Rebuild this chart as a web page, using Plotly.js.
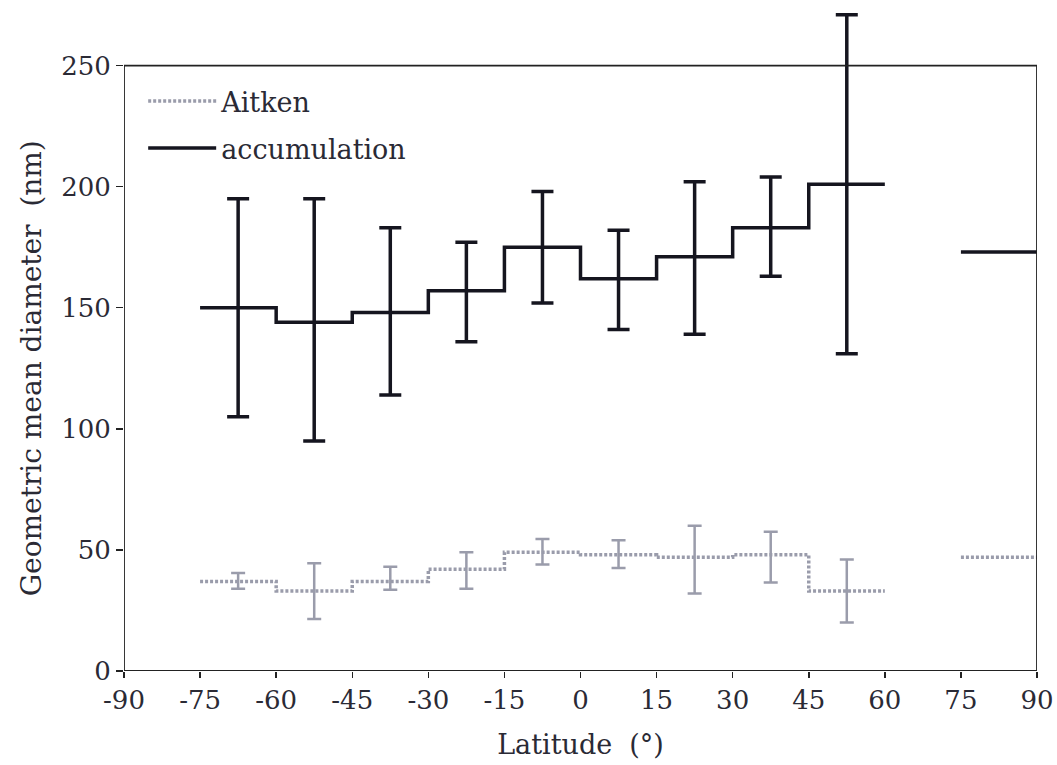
<!DOCTYPE html>
<html>
<head>
<meta charset="utf-8">
<script src="https://cdn.plot.ly/plotly-3.0.1.min.js"></script>
<style>html,body{margin:0;padding:0;background:#fff;}#chart{width:1057px;height:765px;}</style>
</head>
<body>
<div id="chart"></div>
<script>
// ---- data ----
var latBinEdges = [-75, -60, -45, -30, -15, 0, 15, 30, 45, 60];
var accumMean  = [150, 144, 148, 157, 175, 162, 171, 183, 201];
var accumUpper = [195, 195, 183, 177, 198, 182, 202, 204, 271];
var accumLower = [105,  95, 114, 136, 152, 141, 139, 163, 131];
var aitkenMean  = [37, 33, 37, 42, 49, 48, 47, 48, 33];
var aitkenUpper = [40.5, 44.5, 43, 49, 54.5, 54, 60, 57.5, 46];
var aitkenLower = [34, 21.5, 33.5, 34, 44, 42.5, 32, 36.5, 20];
var arcticEdges = [75, 90];
var arcticAccum = 173;
var arcticAitken = 47;
var yTickVals = [0, 50, 100, 150, 200, 250];
var xTickVals = [-90, -75, -60, -45, -30, -15, 0, 15, 30, 45, 60, 75, 90];
var xTickText = ['-90', '-75', '-60', '-45', '-30', '-15', '0', '15', '30', '45', '60', '75', '90'];
var yTitle = 'Geometric mean diameter  (nm)';
var xTitle = 'Latitude  (°)';

// ---- derived ----
function stepY(v){ return v.concat([v[v.length-1]]); }
var centers = [];
for (var i = 0; i < latBinEdges.length - 1; i++) centers.push((latBinEdges[i] + latBinEdges[i+1]) / 2);
function diff(a, b){ return a.map(function(v, i){ return v - b[i]; }); }
var xMin = xTickVals[0], xMax = xTickVals[xTickVals.length - 1];
var yMin = yTickVals[0], yMax = yTickVals[yTickVals.length - 1];

var serif = 'DejaVu Serif, Liberation Serif, serif';
var txt = '#2a2a35';
var accColor = '#15151f';
var aitColor = '#9a9cab';

var traces = [
  { x: latBinEdges, y: stepY(aitkenMean), mode: 'lines', name: 'Aitken', legendgroup: 'a',
    line: { shape: 'hv', color: aitColor, width: 3.5, dash: '3px,2px' }, hoverinfo: 'skip' },
  { x: latBinEdges, y: stepY(accumMean), mode: 'lines', name: 'accumulation', legendgroup: 'b',
    line: { shape: 'hv', color: accColor, width: 3.5 }, hoverinfo: 'skip' },
  { x: arcticEdges, y: [arcticAitken, arcticAitken], mode: 'lines', showlegend: false,
    line: { color: aitColor, width: 3.5, dash: '3px,2px' }, hoverinfo: 'skip' },
  { x: arcticEdges, y: [arcticAccum, arcticAccum], mode: 'lines', showlegend: false,
    line: { color: accColor, width: 3.5 }, hoverinfo: 'skip' },
  { x: centers, y: aitkenMean, mode: 'markers', showlegend: false, marker: { opacity: 0 },
    error_y: { type: 'data', symmetric: false, array: diff(aitkenUpper, aitkenMean),
      arrayminus: diff(aitkenMean, aitkenLower), color: aitColor, thickness: 2.5, width: 7 },
    hoverinfo: 'skip' },
  { x: centers, y: accumMean, mode: 'markers', showlegend: false, marker: { opacity: 0 },
    error_y: { type: 'data', symmetric: false, array: diff(accumUpper, accumMean),
      arrayminus: diff(accumMean, accumLower), color: accColor, thickness: 3.5, width: 11 },
    hoverinfo: 'skip' }
];

var layout = {
  width: 1057, height: 765,
  margin: { l: 124, r: 20, t: 5, b: 94 },
  paper_bgcolor: '#ffffff', plot_bgcolor: '#ffffff',
  font: { family: serif, color: txt, size: 24 },
  showlegend: true,
  legend: { x: 0.021, y: 0.892, xanchor: 'left', yanchor: 'top', bgcolor: 'rgba(0,0,0,0)',
    font: { family: serif, size: 27, color: txt }, itemwidth: 68, tracegroupgap: 9,
    traceorder: 'grouped' },
  xaxis: {
    range: [xMin, xMax], tickmode: 'array', tickvals: xTickVals, ticktext: xTickText,
    ticks: 'outside', ticklen: 6, tickwidth: 1.5, tickcolor: '#222',
    showline: false, showgrid: false, zeroline: false,
    tickfont: { family: serif, size: 26, color: txt },
    title: { text: xTitle, font: { family: serif, size: 27, color: txt }, standoff: 20 }
  },
  yaxis: {
    range: [yMin, 275], tickmode: 'array', tickvals: yTickVals,
    ticks: 'outside', ticklen: 7, tickwidth: 1.5, tickcolor: '#222',
    showline: false, showgrid: false, zeroline: false,
    tickfont: { family: serif, size: 26, color: txt }
  },
  shapes: [
    { type: 'rect', xref: 'x', yref: 'y', x0: xMin, x1: xMax, y0: yMin, y1: yMax,
      line: { color: '#222', width: 1.8 }, fillcolor: 'rgba(0,0,0,0)', layer: 'above' }
  ],
  annotations: [
    { text: yTitle, xref: 'paper', yref: 'y', x: 0, y: (yMin + yMax) / 2, xshift: -93,
      xanchor: 'center', yanchor: 'middle', textangle: -90, showarrow: false,
      font: { family: serif, size: 28, color: txt } }
  ]
};

Plotly.newPlot('chart', traces, layout, { displayModeBar: false, staticPlot: true });
</script>
</body>
</html>
